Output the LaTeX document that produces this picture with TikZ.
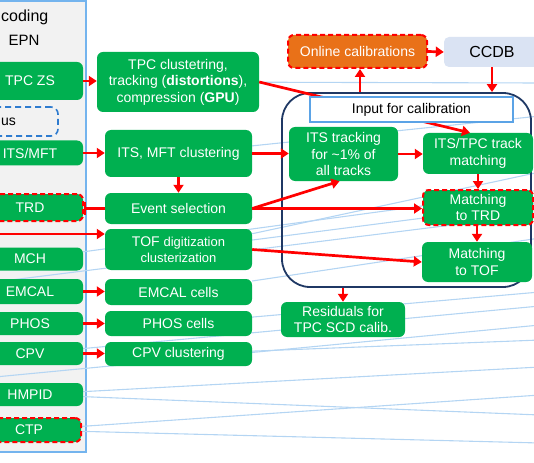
\documentclass[tikz,border=0pt]{standalone}
\usepackage{fontspec}
\setmainfont{Liberation Sans}
\usetikzlibrary{arrows.meta,calc,backgrounds}
\definecolor{boxgreen}{HTML}{00B050}
\definecolor{calorange}{HTML}{E97118}
\definecolor{ccdbfill}{HTML}{DAE3F3}
\definecolor{panelgray}{HTML}{F2F2F2}
\definecolor{panelblue}{HTML}{74B4EE}
\definecolor{thinblue}{HTML}{B4D5F3}
\definecolor{navy}{HTML}{1F3864}
\definecolor{dashblue}{HTML}{2E7BCF}
\definecolor{inputblue}{HTML}{5BA3E6}
\definecolor{arrred}{HTML}{FF0000}
\begin{document}
\begin{tikzpicture}[x=1pt,y=-1pt,
  gbox/.style={fill=boxgreen, rounded corners=6pt, text=white,
    font=\fontsize{14}{16.5}\selectfont, align=center, inner sep=0pt},
  lbox/.style={gbox, minimum width=106pt},
  mbox/.style={gbox, minimum width=147pt},
  rbox/.style={gbox, minimum width=110pt},
  reddash/.style={draw=arrred, line width=2pt, dash pattern=on 5pt off 3pt},
  redarr/.style={draw=arrred, line width=2.7pt, -{Triangle[length=8pt,width=10pt]}},
  faint/.style={draw=thinblue, line width=1.1pt},
]
\useasboundingbox (0,0) rectangle (534,462);
\clip (0,0) rectangle (534,462);

% left panel (background layer, first)
\begin{scope}[on background layer]
\fill[panelgray] (-5,1) rectangle (86,452);
\draw[panelblue, line width=1.6pt] (-5,1) -- (86,1) -- (86,452) -- (-5,452);
\end{scope}
\node[anchor=west, font=\fontsize{16}{19}\selectfont, inner sep=0pt] (codinglbl) at (1,17) {coding};
\node[font=\fontsize{15}{18}\selectfont] (epnlbl) at (24,40) {EPN};

% left nodes
\node[lbox, minimum height=38pt] (tpczs) at (30,81) {TPC ZS};
\node[draw=dashblue, line width=1.6pt, dash pattern=on 6pt off 4pt, rounded corners=7pt,
      minimum width=98pt, minimum height=29pt] (statusbox) at (9,121.5) {};
\node[anchor=west, font=\fontsize{14}{16}\selectfont, inner sep=0pt] (uslbl) at (1,122) {us};
\node[lbox, minimum height=25pt] (itsmft) at (30,153) {ITS/MFT};
\node[lbox, minimum height=27pt, reddash] (trd) at (30,207.5) {TRD};
\node[lbox, minimum height=23pt] (mch) at (30,259) {MCH};
\node[lbox, minimum height=25pt] (emcal) at (30,291.5) {EMCAL};
\node[lbox, minimum height=23pt] (phos) at (30,323.5) {PHOS};
\node[lbox, minimum height=23pt] (cpv) at (30,353.5) {CPV};
\node[lbox, minimum height=23pt] (hmpid) at (30,394.5) {HMPID};
\node[lbox, minimum height=24pt, minimum width=104pt, reddash] (ctp) at (29,430) {CTP};

% middle nodes
\node[gbox, minimum width=162pt, minimum height=60pt] (tpcclust) at (178,82)
  {TPC clustetring,\\tracking (\textbf{distortions}),\\compression (\textbf{GPU})};
\node[mbox, minimum height=47pt] (itsclust) at (178.5,153.5) {ITS, MFT clustering};
\node[mbox, minimum height=31pt] (evsel) at (178.5,208.5) {Event selection};
\node[mbox, minimum height=41pt] (tofdig) at (178.5,249.5)
  {TOF {\fontsize{13}{15}\selectfont digitization}\\{\fontsize{13}{16}\selectfont clusterization}};
\node[mbox, minimum height=26pt] (emcalcells) at (178.5,292) {EMCAL cells};
\node[mbox, minimum height=25pt] (phoscells) at (178.5,323.5) {PHOS cells};
\node[mbox, minimum height=24pt] (cpvclust) at (178.5,354) {CPV clustering};

% free ends of thin connectors
\coordinate (e1) at (540,83);
\coordinate (e2) at (540,116);
\coordinate (e3) at (540,172);
\coordinate (e4) at (540,203);
\coordinate (e5) at (540,190);
\coordinate (s6) at (-5,282);
\coordinate (e6) at (540,214);
\coordinate (e7) at (540,238);
\coordinate (e8) at (540,292);
\coordinate (e9) at (540,306);
\coordinate (s10) at (-5,377);
\coordinate (e10) at (540,325);
\coordinate (e11) at (540,340);
\coordinate (e12) at (540,367);
\coordinate (e13) at (540,415);
\coordinate (e14) at (540,395);
\coordinate (e15) at (540,443);

% thin blue connectors, behind the boxes
\begin{scope}[on background layer]
\draw[faint] (tpcclust) -- (e1);
\draw[faint] (itsclust) -- (e2);
\draw[faint] (tofdig) -- (e3);
\draw[faint] (tofdig) -- (e4);
\draw[faint] (mch) -- (e5);
\draw[faint] (s6) -- (e6);
\draw[faint] (emcalcells) -- (e7);
\draw[faint] (phoscells) -- (e8);
\draw[faint] (cpv) -- (e9);
\draw[faint] (s10) -- (e10);
\draw[faint] (cpvclust) -- (e11);
\draw[faint] (hmpid) -- (e12);
\draw[faint] (hmpid) -- (e13);
\draw[faint] (ctp) -- (e14);
\draw[faint] (ctp) -- (e15);
\end{scope}

% big calibration frame
\node[draw=navy, line width=1.8pt, rounded corners=28pt, minimum width=249pt,
      minimum height=194pt, inner sep=0pt] (calib) at (406.5,190) {};

% right nodes
\node[gbox, minimum width=139pt, minimum height=33pt, fill=calorange, reddash] (onlinecal) at (357.5,51.5) {Online calibrations};
\node[fill=ccdbfill, rounded corners=5pt, minimum width=96pt, minimum height=30pt,
      font=\fontsize{16}{18}\selectfont] (ccdb) at (492,52) {CCDB};
\node[gbox, minimum width=109pt, minimum height=54pt] (itstrack) at (343.5,154)
  {ITS tracking\\for \textasciitilde1\% of\\all tracks};
\node[rbox, minimum height=41pt] (itstpc) at (478,153.5) {ITS/TPC track\\matching};
\node[rbox, minimum height=35pt, reddash] (mtrd) at (478,207.5) {Matching\\to TRD};
\node[rbox, minimum height=40pt] (mtof) at (477,262) {Matching\\to TOF};
\node[gbox, minimum width=124pt, minimum height=35pt] (resid) at (343,319.5)
  {Residuals for\\TPC SCD calib.};

% red arrow passing behind the input box
\draw[redarr] (tpcclust.east) -- ([xshift=-8pt]itstpc.north);
\node[draw=inputblue, fill=white, line width=1.2pt, minimum width=203pt, minimum height=25pt,
      font=\fontsize{14}{16}\selectfont] (inputcal) at (411.5,109.5) {Input for calibration};

% red arrows
\draw[redarr] (tpczs.east) -- (tpcclust.west |- tpczs.east);
\draw[redarr] (itsmft.east) -- (itsclust.west |- itsmft.east);
\draw[redarr] (itsclust.south) -- (evsel.north);
\draw[draw=arrred, line width=2.7pt, -{Bar[width=13pt,line width=2.2pt]}] (evsel.west) -- (trd.east |- evsel.west);
\coordinate (tofsrc) at (-5,234);
\draw[redarr] (tofsrc) -- (tofdig.west |- tofsrc);
\draw[redarr] (emcal.east) -- (emcalcells.west |- emcal.east);
\draw[redarr] (phos.east) -- (phoscells.west |- phos.east);
\draw[redarr] (cpv.east) -- (cpvclust.west |- cpv.east);
\draw[redarr] (itsclust.east) -- (itstrack.west |- itsclust.east);
\draw[redarr] (itstrack.east) -- (itstpc.west |- itstrack.east);
\draw[redarr] (itstpc.south) -- (mtrd.north);
\draw[redarr] ([xshift=-1pt]mtrd.south) -- (mtof.north);
\draw[redarr] (evsel.east) -- ([xshift=-4pt]itstrack.south);
\draw[redarr] (evsel.east) -- (mtrd.west |- evsel.east);
\draw[redarr] (tofdig.east) -- (mtof.west);
\draw[redarr] (onlinecal.east) -- (ccdb.west);
\draw[redarr] (ccdb.south) -- (ccdb.south |- calib.north);
\draw[redarr] ([xshift=2.5pt]onlinecal.south |- calib.north) -- ([xshift=2.5pt]onlinecal.south);
\draw[redarr] (resid.north |- calib.south) -- (resid.north);
\end{tikzpicture}
\end{document}
